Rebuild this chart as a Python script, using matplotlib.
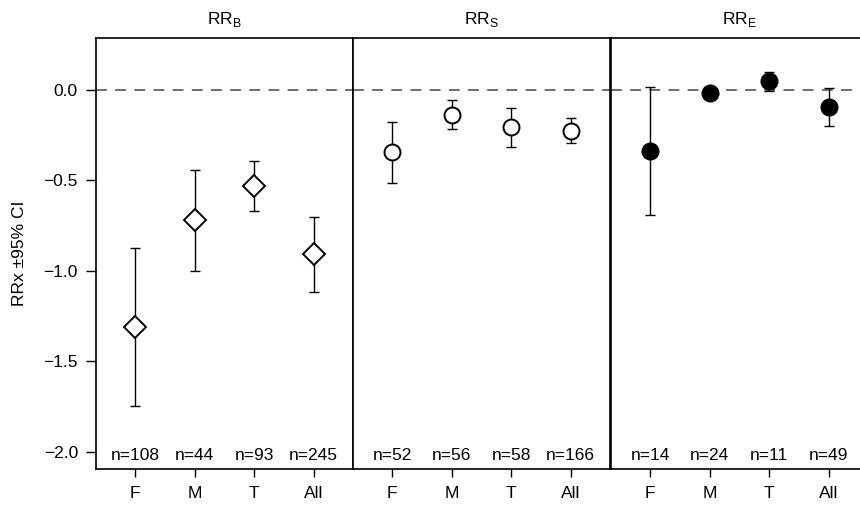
import numpy as np
import matplotlib
matplotlib.use("Agg")
import matplotlib.pyplot as plt

plt.rcParams['font.family'] = ['Liberation Sans', 'DejaVu Sans']
plt.rcParams['mathtext.fontset'] = 'custom'
plt.rcParams['mathtext.rm'] = 'Liberation Sans'

categories = ["F", "M", "T", "All"]
titles = [r"RR$_\mathrm{B}$", r"RR$_\mathrm{S}$", r"RR$_\mathrm{E}$"]

rrb_mean = [-1.31, -0.72, -0.53, -0.905]
rrb_low = [-1.745, -1.0, -0.667, -1.115]
rrb_high = [-0.875, -0.442, -0.39, -0.70]
rrb_n = [108, 44, 93, 245]

rrs_mean = [-0.345, -0.138, -0.204, -0.226]
rrs_low = [-0.514, -0.215, -0.313, -0.295]
rrs_high = [-0.175, -0.057, -0.099, -0.156]
rrs_n = [52, 56, 58, 166]

rre_mean = [-0.335, -0.015, 0.048, -0.096]
rre_low = [-0.69, -0.04, -0.004, -0.199]
rre_high = [0.015, 0.01, 0.10, 0.009]
rre_n = [14, 24, 11, 49]

panels = [
    (rrb_mean, rrb_low, rrb_high, rrb_n, dict(marker="D", ms=11, mfc="white", mec="black", mew=1.4)),
    (rrs_mean, rrs_low, rrs_high, rrs_n, dict(marker="o", ms=11.5, mfc="white", mec="black", mew=1.4)),
    (rre_mean, rre_low, rre_high, rre_n, dict(marker="o", ms=12, mfc="black", mec="black", mew=1.0)),
]

FS = 12.5
fig = plt.figure(figsize=(8.6, 5.08), dpi=100)
W, H = 860, 508
lefts = [96, 353, 611]
pw = 257
bottom, top = 469, 38
x = np.arange(1, 5)

for i, (mean, low, high, ns, mstyle) in enumerate(panels):
    ax = fig.add_axes([lefts[i] / W, (H - bottom) / H, pw / W, (bottom - top) / H])
    mean = np.array(mean)
    yerr = [mean - np.array(low), np.array(high) - mean]
    ax.axhline(0, color="#555555", ls=(0, (6.5, 5)), lw=1.2, zorder=1)
    ax.errorbar(x, mean, yerr=yerr, fmt="none", ecolor="black", elinewidth=1.0,
                capsize=3.5, capthick=1.0, zorder=2)
    ax.plot(x, mean, ls="none", zorder=3, **mstyle)
    for xi, n in zip(x, ns):
        ax.text(xi, -2.02, f"n={n}", ha="center", va="center", fontsize=FS)
    ax.set_xlim(0.34, 4.66)
    ax.set_ylim(-2.094, 0.287)
    ax.set_xticks(x)
    ax.set_xticklabels(categories, fontsize=FS)
    ax.tick_params(axis="x", length=6, width=1, pad=6)
    ax.set_title(titles[i], fontsize=FS, pad=10)
    for s in ax.spines.values():
        s.set_linewidth(1.2)
    if i == 0:
        ax.set_yticks([0.0, -0.5, -1.0, -1.5, -2.0])
        ax.set_yticklabels(["0.0", "\u22120.5", "\u22121.0", "\u22121.5", "\u22122.0"], fontsize=FS)
        ax.tick_params(axis="y", length=7, width=1, pad=6)
        ax.set_ylabel("RRx \u00b195% CI", fontsize=FS, labelpad=12)
    else:
        ax.set_yticks([])

fig.savefig("out.png", dpi=100)
